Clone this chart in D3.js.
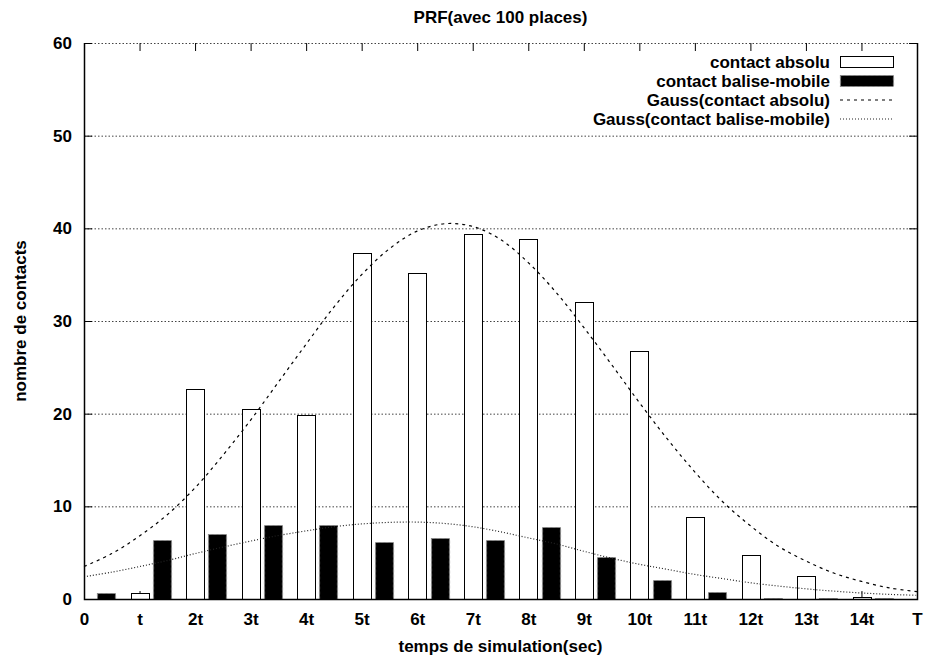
<!DOCTYPE html>
<html><head><meta charset="utf-8">
<script src="https://cdn.jsdelivr.net/npm/d3@7/dist/d3.min.js"></script>
<style>
body{margin:0;background:#fff}
text{font-family:"Liberation Sans",Arial,Helvetica,sans-serif;font-weight:bold;fill:#000}
</style>
</head><body>
<svg id="chart" width="927" height="662"></svg>
<script>
// ---- data ----
const categories = ["0","t","2t","3t","4t","5t","6t","7t","8t","9t","10t","11t","12t","13t","14t","T"];
const yTicks = [0,10,20,30,40,50,60];
// contact absolu : one bar per category t .. 14t
const absoluCats = ["t","2t","3t","4t","5t","6t","7t","8t","9t","10t","11t","12t","13t","14t"];
const absolu = [0.65,22.7,20.5,19.9,37.3,35.2,39.4,38.8,32.0,26.8,8.9,4.7,2.5,0.25];
// contact balise-mobile : one bar per interval starting at 0 .. 14t
const baliseCats = ["0","t","2t","3t","4t","5t","6t","7t","8t","9t","10t","11t","12t","13t","14t"];
const baliseMobile = [0.6,6.4,7.0,8.0,8.0,6.2,6.6,6.4,7.8,4.5,2.0,0.8,0.1,0.1,0.1];
// fitted curves, read at half-steps of t
const gaussX = [0,0.5,1,1.5,2,2.5,3,3.5,4,4.5,5,5.5,6,6.5,7,7.5,8,8.5,9,9.5,10,10.5,11,11.5,12,12.5,13,13.5,14,14.5,15];
const gaussAbsolu = [3.5,4.9,6.8,9.1,12.0,15.5,19.3,23.4,27.5,31.5,35.0,37.8,39.7,40.5,40.2,38.8,36.3,33.1,29.3,25.3,21.2,17.3,13.7,10.5,7.9,5.7,4.1,2.8,1.9,1.2,0.8];
const gaussBalise = [2.4,2.9,3.5,4.15,4.9,5.6,6.25,6.85,7.35,7.8,8.1,8.27,8.3,8.15,7.8,7.25,6.6,5.95,5.15,4.4,3.75,3.2,2.65,2.2,1.75,1.4,1.1,0.85,0.65,0.5,0.4];
const seriesNames = ["contact absolu","contact balise-mobile","Gauss(contact absolu)","Gauss(contact balise-mobile)"];
const title = "PRF(avec 100 places)";
const xTitle = "temps de simulation(sec)";
const yTitle = "nombre de contacts";

// ---- layout ----
const svg = d3.select("#chart");
const L = 84, R = 917, T = 43, B = 599;
const x = d3.scaleLinear().domain([0, categories.length - 1]).range([L, R]);
const y = d3.scaleLinear().domain([0, 60]).range([B, T]);
const catIndex = c => categories.indexOf(c);
const barW = 0.32;
const FS = 17;

// grid
svg.append("g").selectAll("line").data(yTicks).join("line")
  .attr("x1", L).attr("x2", R)
  .attr("y1", d => y(d) + 0.5).attr("y2", d => y(d) + 0.5)
  .attr("stroke", "#444").attr("stroke-width", 1).attr("stroke-dasharray", "1.5,2");

// axes (ticks pointing inward)
const fmtNone = () => "";
const axL = svg.append("g").attr("transform", `translate(${L},0)`)
  .call(d3.axisLeft(y).tickValues(yTicks).tickSize(-8).tickPadding(12));
const axR = svg.append("g").attr("transform", `translate(${R},0)`)
  .call(d3.axisRight(y).tickValues(yTicks).tickSize(-8).tickFormat(fmtNone));
const axB = svg.append("g").attr("transform", `translate(0,${B})`)
  .call(d3.axisBottom(x).tickValues(d3.range(categories.length)).tickFormat(i => categories[i]).tickSize(-8).tickPadding(14));
const axT = svg.append("g").attr("transform", `translate(0,${T})`)
  .call(d3.axisTop(x).tickValues(d3.range(categories.length)).tickSize(-8).tickFormat(fmtNone));
[axL, axR, axB, axT].forEach(g => {
  g.select(".domain").remove();
  g.selectAll(".tick line").attr("stroke", "#000").attr("stroke-width", 1);
  g.selectAll("text").attr("font-size", FS).attr("font-family", "Liberation Sans, Arial, sans-serif").attr("font-weight", "bold").attr("fill", "#000");
});

// bars: contact absolu (white)
svg.append("g").selectAll("rect").data(absolu).join("rect")
  .attr("x", (d, i) => Math.round(x(catIndex(absoluCats[i]) - barW / 2)) + 0.5)
  .attr("width", Math.round(x(barW) - x(0)))
  .attr("y", d => Math.round(y(d)) + 0.5)
  .attr("height", d => B - Math.round(y(d)))
  .attr("fill", "#fff").attr("stroke", "#000").attr("stroke-width", 1);

// bars: contact balise-mobile (black, dashed grey border)
const baliseOffset = 0.4;
svg.append("g").selectAll("rect").data(baliseMobile).join("rect")
  .attr("x", (d, i) => Math.round(x(catIndex(baliseCats[i]) + baliseOffset - barW / 2)) + 0.5)
  .attr("width", Math.round(x(barW) - x(0)))
  .attr("y", d => Math.round(y(d)) + 0.5)
  .attr("height", d => Math.max(1, B - Math.round(y(d))))
  .attr("fill", "#000").attr("stroke", "#888").attr("stroke-width", 1.2).attr("stroke-dasharray", "3,2");

// curves
const line = d3.line().x((d, i) => x(gaussX[i])).y(d => y(d)).curve(d3.curveCatmullRom);
svg.append("path").datum(gaussAbsolu).attr("d", line)
  .attr("fill", "none").attr("stroke", "#000").attr("stroke-width", 1.2).attr("stroke-dasharray", "3,4");
svg.append("path").datum(gaussBalise).attr("d", line)
  .attr("fill", "none").attr("stroke", "#222").attr("stroke-width", 1.2).attr("stroke-dasharray", "1,2");

// frame (left, right, bottom solid)
svg.append("path")
  .attr("d", `M${L + 0.5},${T}V${B + 0.5}H${R + 0.5}V${T}`)
  .attr("fill", "none").attr("stroke", "#000").attr("stroke-width", 1.5);

// titles
svg.append("text").attr("x", (L + R) / 2).attr("y", 23).attr("text-anchor", "middle").attr("font-size", FS).text(title);
svg.append("text").attr("x", (L + R) / 2).attr("y", 652).attr("text-anchor", "middle").attr("font-size", FS).text(xTitle);
svg.append("text").attr("transform", `translate(26,${(T + B) / 2}) rotate(-90)`).attr("text-anchor", "middle").attr("font-size", FS).text(yTitle);

// legend
const lg = svg.append("g");
const rowY = [62, 81, 100, 119];
const tx = 830, s0 = 840, s1 = 893;
seriesNames.forEach((name, i) => {
  lg.append("text").attr("x", tx).attr("y", rowY[i] + 6).attr("text-anchor", "end").attr("font-size", FS).text(name);
});
lg.append("rect").attr("x", s0 + 0.5).attr("y", rowY[0] - 5.5).attr("width", s1 - s0).attr("height", 11)
  .attr("fill", "#fff").attr("stroke", "#000");
lg.append("rect").attr("x", s0 + 0.5).attr("y", rowY[1] - 5.5).attr("width", s1 - s0).attr("height", 11)
  .attr("fill", "#000").attr("stroke", "#888").attr("stroke-width", 1.2).attr("stroke-dasharray", "3,2");
lg.append("line").attr("x1", s0).attr("x2", s1).attr("y1", rowY[2]).attr("y2", rowY[2])
  .attr("stroke", "#000").attr("stroke-width", 1.2).attr("stroke-dasharray", "3,4");
lg.append("line").attr("x1", s0).attr("x2", s1).attr("y1", rowY[3]).attr("y2", rowY[3])
  .attr("stroke", "#222").attr("stroke-width", 1.2).attr("stroke-dasharray", "1,2");
</script>
</body></html>
